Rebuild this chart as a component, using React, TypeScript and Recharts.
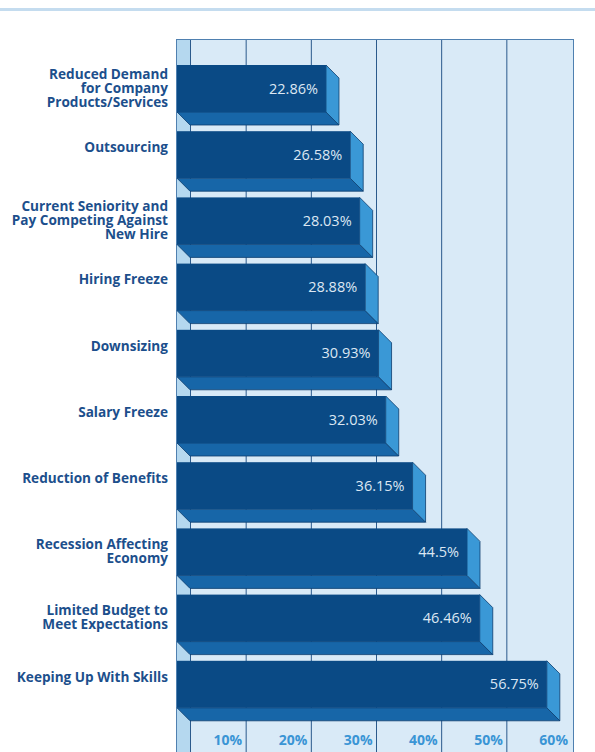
import { BarChart, Bar, XAxis, YAxis, CartesianGrid, LabelList } from "recharts";

const categories = [
	"Reduced Demand\nfor Company\nProducts/Services",
	"Outsourcing",
	"Current Seniority and\nPay Competing Against\nNew Hire",
	"Hiring Freeze",
	"Downsizing",
	"Salary Freeze",
	"Reduction of Benefits",
	"Recession Affecting\nEconomy",
	"Limited Budget to\nMeet Expectations",
	"Keeping Up With Skills",
];
const percents = [22.86, 26.58, 28.03, 28.88, 30.93, 32.03, 36.15, 44.5, 46.46, 56.75];
const xTicks = [10, 20, 30, 40, 50, 60];

const data = categories.map((name, i) => ({ name, value: percents[i] }));

const DEPTH = 13;
const GRID_SHIFT = 4;
const FONT = "'Open Sans', 'Noto Sans', sans-serif";

// front face + bottom face + right side face, seen from below-right
function Bar3D(props: any) {
	const { x, y, width, height } = props;
	const r = x + width;
	const b = y + height;
	return (
		<g>
			<polygon
				points={`${x},${b} ${r},${b} ${r + DEPTH},${b + DEPTH} ${x + DEPTH},${b + DEPTH}`}
				fill="#1766a8"
				stroke="#0d3d6f"
				strokeWidth={0.8}
			/>
			<polygon
				points={`${r},${y} ${r + DEPTH},${y + DEPTH} ${r + DEPTH},${b + DEPTH} ${r},${b}`}
				fill="#3a98d6"
				stroke="#0d3d6f"
				strokeWidth={0.8}
			/>
			<rect x={x} y={y} width={width} height={height} fill="#0a4a85" />
		</g>
	);
}

function CategoryTick(props: any) {
	const { x, y, payload } = props;
	const lines = String(payload.value).split("\n");
	const first = lines.length === 1 ? -7 : -(lines.length - 1) * 7;
	return (
		<text textAnchor="end" fontSize={13.6} fontWeight={700} fill="#1c4f8c" fontFamily={FONT}>
			{lines.map((l, i) => (
				<tspan key={i} x={x - 1} y={y + first + i * 14} dy="0.35em">
					{l}
				</tspan>
			))}
		</text>
	);
}

function PercentTick(props: any) {
	const { x, y, payload } = props;
	return (
		<text
			x={x + GRID_SHIFT - 4}
			y={y + 20}
			textAnchor="end"
			fontSize={14}
			fontWeight={700}
			fill="#3a95d5"
			fontFamily={FONT}
		>
			{payload.value}%
		</text>
	);
}

export default function App() {
	return (
		<div
			style={{
				position: "absolute",
				left: 0,
				top: 0,
				width: 595,
				height: 752,
				background: "#ffffff",
				overflow: "hidden",
				fontFamily: FONT,
			}}
		>
			<div style={{ position: "absolute", left: 0, top: 8, width: 595, height: 3, background: "#c4dcef" }} />
			<div
				style={{
					position: "absolute",
					left: 176,
					top: 39,
					width: 396,
					height: 720,
					background: "#d9eaf7",
					border: "1.5px solid #4f80b0",
				}}
			/>
			<div
				style={{
					position: "absolute",
					left: 177,
					top: 40,
					width: 13,
					height: 720,
					background: "#b5d8ef",
					borderRight: "1px solid #2b5a8c",
				}}
			/>
			<div style={{ position: "absolute", left: 0, top: 0 }}>
				<BarChart
					width={595}
					height={752}
					data={data}
					layout="vertical"
					margin={{ top: 55, right: 27, bottom: 0, left: 0 }}
					barCategoryGap={0}
				>
					<CartesianGrid
						horizontal={false}
						y={40}
						height={712}
						stroke="#2b5a8c"
						strokeWidth={1}
						verticalCoordinatesGenerator={({ offset }: any) =>
							xTicks.slice(0, 5).map((t) => offset.left + (offset.width * t) / 60 + GRID_SHIFT)
						}
					/>
					<XAxis
						type="number"
						domain={[0, 60]}
						ticks={xTicks}
						height={35}
						axisLine={false}
						tickLine={false}
						tick={<PercentTick />}
					/>
					<YAxis
						type="category"
						dataKey="name"
						width={177}
						axisLine={false}
						tickLine={false}
						tick={<CategoryTick />}
						interval={0}
					/>
					<Bar dataKey="value" barSize={47} shape={<Bar3D />} isAnimationActive={false}>
						<LabelList
							dataKey="value"
							position="insideRight"
							offset={8}
							fill="#dce7f3"
							fontSize={14.5}
							fontFamily={FONT}
							formatter={(v: any) => `${v}%`}
						/>
					</Bar>
				</BarChart>
			</div>
		</div>
	);
}
